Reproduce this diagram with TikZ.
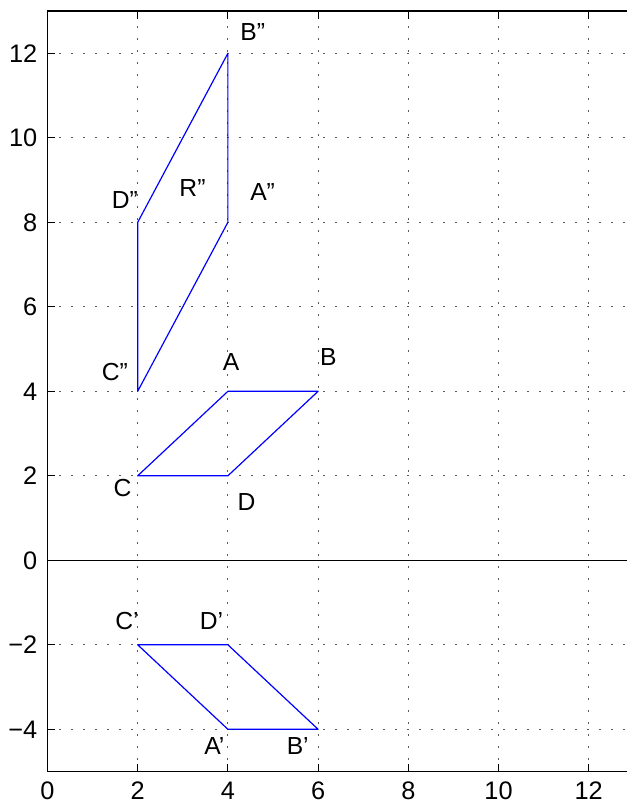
\documentclass[tikz,border=0pt]{standalone}
\usepackage{fontspec}
\setmainfont{Liberation Sans}
\usetikzlibrary{positioning}
\definecolor{plotblue}{RGB}{0,0,255}
\definecolor{gridgray}{RGB}{90,90,90}
\tikzset{
  gridln/.style={gridgray, line width=0.9pt, dash pattern=on 0.9pt off 8.1pt},
  axln/.style={black, line width=0.9pt},
  zeroln/.style={black, line width=0.8pt},
  tickln/.style={black, line width=0.8pt},
  shp/.style={plotblue, line width=0.9pt, line join=round},
  ptlab/.style={font=\fontsize{18.5}{18.5}\selectfont, anchor=west, inner sep=0pt},
  ticklab/.style={font=\fontsize{19}{19}\selectfont, inner sep=0pt},
}

\begin{document}
\begin{tikzpicture}[x=33.83pt,y=31.69pt]
\def\R{12.849}
\useasboundingbox (-1.053,-5.792) rectangle (\R,13.262);
% grid
\foreach \gx in {2,4,...,12} \draw[gridln] (\gx,-5) -- (\gx,13);
\foreach \gy in {-4,-2,...,12} \draw[gridln] (0,\gy) -- (\R,\gy);
\draw[zeroln] (0,0) -- (\R,0);
% axes box
\draw[axln] (\R,-5) -- (0,-5) -- (0,13) -- (\R,13);
\foreach \gx in {0,2,...,12} {
  \draw[tickln] (\gx,-5) -- (\gx,-4.81);
  \draw[tickln] (\gx,13) -- (\gx,12.81);
  \node[ticklab, anchor=north] (xl\gx) at ([yshift=-7.5pt]\gx,-5) {\gx};
}
\foreach \gy/\txt [count=\k] in {-4/−4,-2/−2,0/0,2/2,4/4,6/6,8/8,10/10,12/12} {
  \draw[tickln] (0,\gy) -- (0.177,\gy);
  \node[ticklab, anchor=east] (yl\k) at ([xshift=-7.5pt]0,\gy) {\txt};
}
% parallelograms
\coordinate (A) at (4,4);   \coordinate (B) at (6,4);
\coordinate (C) at (2,2);   \coordinate (D) at (4,2);
\coordinate (A1) at (4,-4); \coordinate (B1) at (6,-4);
\coordinate (C1) at (2,-2); \coordinate (D1) at (4,-2);
\coordinate (A2) at (4,8);  \coordinate (B2) at (4,12);
\coordinate (C2) at (2,4);  \coordinate (D2) at (2,8);
\draw[shp] (A) -- (B) -- (D) -- (C) -- cycle;
\draw[shp] (A1) -- (B1) -- (D1) -- (C1) -- cycle;
\draw[shp] (A2) -- (B2) -- (D2) -- (C2) -- cycle;
% labels
\node[ptlab] (labA) at (3.88,4.70) {A};
\node[ptlab] (labB) at (6.04,4.82) {B};
\node[ptlab] (labC) at (1.46,1.70) {C};
\node[ptlab] (labD) at (4.21,1.39) {D};
\node[ptlab] (labA1) at (3.47,-4.39) {A'};
\node[ptlab] (labB1) at (5.30,-4.39) {B'};
\node[ptlab] (labC1) at (1.50,-1.43) {C'};
\node[ptlab] (labD1) at (3.37,-1.43) {D'};
\node[ptlab] (labA2) at (4.49,8.72) {A''};
\node[ptlab] (labB2) at (4.27,12.50) {B''};
\node[ptlab] (labC2) at (1.20,4.46) {C''};
\node[ptlab] (labD2) at (1.42,8.53) {D''};
\node[ptlab] (labR2) at (2.92,8.81) {R''};
\end{tikzpicture}
\end{document}
